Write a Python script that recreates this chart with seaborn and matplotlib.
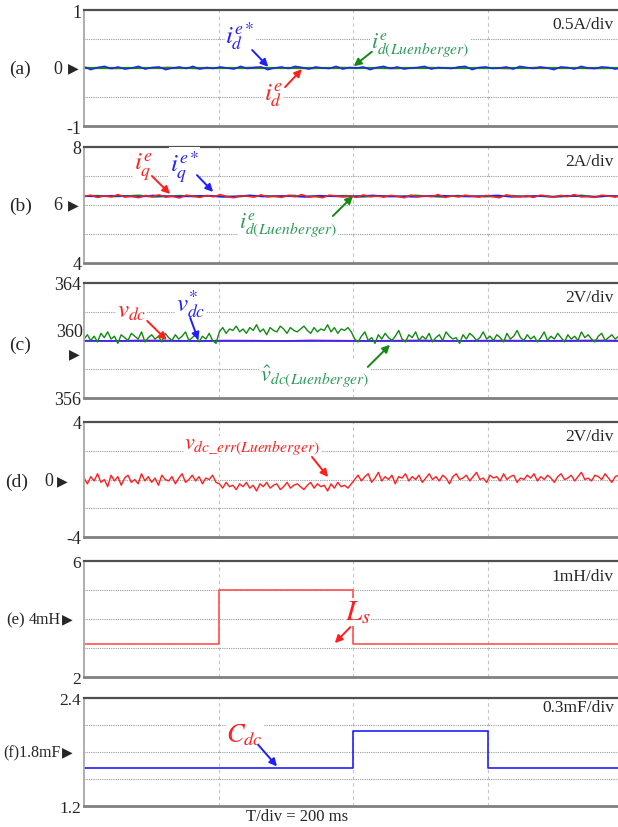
import matplotlib
matplotlib.use("Agg")
import matplotlib.pyplot as plt
import numpy as np
import seaborn as sns
from matplotlib.ticker import FixedLocator

sns.set_style("white")
plt.rcParams["font.family"] = ["Liberation Serif", "DejaVu Sans"]
plt.rcParams["mathtext.fontset"] = "stix"

W, H = 618, 828
BLUE = "#1f1fff"
RED = "#ff1f1f"
GREEN = "#128a12"
GREEN_TXT = "#2e9a5a"

# ---- data (time axis 0..800 ms, 200 ms/div) ----
# (a) d-axis current
id_ref = [0.02, -0.03, 0.01, 0.03, -0.01, 0.02, -0.02, 0.0, 0.03, -0.02,
          0.01, 0.02, -0.03, 0.0, 0.02, -0.01, 0.03, -0.02, 0.01, -0.01,
          0.02, 0.0, -0.02, 0.03, -0.01, 0.01, 0.02, -0.03, 0.0, 0.02,
          -0.01, 0.03, 0.01, -0.02, 0.02, 0.0, -0.01, 0.03, -0.02, 0.01,
          0.0, 0.02, -0.03, 0.01, 0.03, -0.01, 0.02, -0.02, 0.0, 0.01,
          0.03, -0.02, 0.01, 0.0, -0.01, 0.02, 0.03, -0.03, 0.01, 0.02,
          -0.01, 0.0, 0.02, -0.02, 0.03, 0.01, -0.01, 0.02, 0.0, -0.03,
          0.02, 0.01, -0.02, 0.03, 0.0, -0.01, 0.02, 0.01, -0.02, 0.0]
id_meas = [0.01, -0.01, 0.0, 0.01, -0.01, 0.0, 0.01, 0.0, -0.01, 0.01,
           0.0, -0.01, 0.01, 0.0, 0.0, -0.01, 0.01, 0.0, -0.01, 0.0]
id_obs = [0.0, 0.0]

# (b) q-axis current
iq_meas = [6.30, 6.34, 6.26, 6.32, 6.28, 6.36, 6.27, 6.31, 6.25, 6.33,
           6.29, 6.35, 6.27, 6.30, 6.24, 6.34, 6.31, 6.26, 6.33, 6.28,
           6.36, 6.29, 6.25, 6.32, 6.30, 6.27, 6.35, 6.28, 6.31, 6.26,
           6.33, 6.29, 6.36, 6.27, 6.30, 6.25, 6.34, 6.31, 6.28, 6.32,
           6.26, 6.35, 6.29, 6.31, 6.27, 6.33, 6.30, 6.25, 6.34, 6.28,
           6.32, 6.29, 6.36, 6.26, 6.31, 6.28, 6.34, 6.30, 6.27, 6.33,
           6.29, 6.25, 6.35, 6.30, 6.28, 6.32, 6.26, 6.34, 6.31, 6.27,
           6.33, 6.29, 6.36, 6.28, 6.30, 6.26, 6.34, 6.31, 6.27, 6.32]
iq_ref = [6.31, 6.29, 6.32, 6.30, 6.28, 6.33, 6.30, 6.29, 6.31, 6.32,
          6.28, 6.30, 6.33, 6.29, 6.31, 6.30, 6.28, 6.32, 6.30, 6.29,
          6.31, 6.33, 6.29, 6.30, 6.28, 6.31, 6.32, 6.30, 6.29, 6.31,
          6.33, 6.28, 6.30, 6.31, 6.29, 6.32, 6.30, 6.28, 6.31, 6.30]
iq_obs = [6.30, 6.32, 6.29, 6.31, 6.33, 6.28, 6.30, 6.32, 6.29, 6.31,
          6.30, 6.28, 6.32, 6.31, 6.29, 6.33, 6.30, 6.29, 6.31, 6.32,
          6.28, 6.30, 6.31, 6.29, 6.33, 6.30, 6.28, 6.32, 6.31, 6.29,
          6.30, 6.32, 6.29, 6.31, 6.28, 6.30, 6.33, 6.29, 6.31, 6.30]

# (c) dc-link voltage
vdc_meas = [360.0, 359.97, 360.02, 360.0, 359.98, 360.01, 360.0, 359.97, 360.02, 360.0,
            359.98, 360.0, 360.02, 359.97, 360.0, 360.01, 359.98, 360.0, 360.02, 360.0]
vdc_ref = [360.0, 360.0]
vdc_obs = [360.1, 360.4, 360.0, 360.3, 359.9, 360.5, 360.2, 360.6, 360.1, 360.3,
           359.8, 360.4, 360.2, 360.0, 360.5, 360.3, 360.1, 360.6, 359.9, 360.2,
           360.4, 360.1, 360.3, 359.9, 360.5, 360.2, 360.0, 360.4, 360.1, 360.3,
           360.6, 360.0, 360.2, 360.4, 359.9, 360.3, 360.1, 360.5, 360.0, 359.8,
           360.6, 360.9, 360.5, 360.8, 360.7, 361.0, 360.6, 360.8, 360.5, 360.9,
           360.7, 361.1, 360.6, 360.8, 360.4, 360.9, 360.7, 360.6, 361.0, 360.8,
           360.5, 360.9, 360.7, 360.6, 360.8, 361.0, 360.7, 360.5, 360.9, 360.6,
           360.8, 360.7, 361.1, 360.6, 360.9, 360.5, 360.8, 360.7, 360.9, 360.6,
           360.1, 359.9, 360.3, 360.6, 360.0, 360.2, 359.8, 360.4, 360.1, 360.5,
           360.2, 360.0, 360.3, 360.7, 360.1, 359.9, 360.4, 360.2, 360.6, 360.0,
           360.3, 360.1, 360.5, 359.9, 360.2, 360.4, 360.0, 360.6, 360.3, 360.1,
           360.2, 359.8, 360.4, 360.1, 360.5, 360.3, 360.0, 360.2, 360.6, 360.1,
           360.3, 360.0, 360.4, 360.2, 359.9, 360.5, 360.1, 360.3, 360.7, 360.2,
           360.0, 360.4, 360.1, 360.3, 359.9, 360.2, 360.6, 360.0, 360.3, 360.1,
           360.5, 360.2, 359.9, 360.4, 360.1, 360.3, 360.0, 360.6, 360.2, 360.4,
           360.1, 359.9, 360.3, 360.5, 360.0, 360.2, 360.4, 360.1, 360.3, 360.2]

# (d) dc-link voltage estimation error
vdc_err = [0.1, -0.3, 0.2, -0.1, 0.4, -0.2, 0.0, -0.5, 0.3, -0.1,
           0.2, -0.4, 0.1, 0.3, -0.2, 0.0, -0.3, 0.4, -0.1, 0.2,
           -0.2, 0.1, -0.4, 0.3, 0.0, -0.1, 0.2, -0.3, 0.1, 0.4,
           -0.2, 0.0, 0.3, -0.1, 0.2, -0.3, 0.1, 0.0, 0.3, -0.2,
           -0.3, -0.6, -0.2, -0.5, -0.4, -0.7, -0.3, -0.5, -0.2, -0.6,
           -0.4, -0.8, -0.3, -0.5, -0.2, -0.6, -0.4, -0.3, -0.7, -0.5,
           -0.2, -0.6, -0.4, -0.3, -0.5, -0.7, -0.4, -0.2, -0.6, -0.3,
           -0.5, -0.4, -0.8, -0.3, -0.6, -0.2, -0.5, -0.4, -0.6, -0.3,
           0.0, 0.3, -0.1, 0.2, 0.4, -0.2, 0.1, 0.5, -0.1, 0.2,
           0.0, 0.3, -0.3, 0.2, 0.1, 0.4, -0.1, 0.2, 0.0, 0.3,
           -0.2, 0.1, 0.4, 0.0, 0.2, -0.1, 0.3, 0.1, -0.3, 0.2,
           0.4, 0.0, 0.1, 0.3, -0.1, 0.2, 0.5, 0.0, 0.1, -0.2,
           0.3, 0.1, 0.2, -0.1, 0.4, 0.0, 0.2, 0.3, -0.2, 0.1,
           0.0, 0.3, 0.1, 0.4, -0.1, 0.2, 0.0, 0.3, 0.1, -0.2,
           0.2, 0.4, 0.0, 0.1, 0.3, -0.1, 0.2, 0.5, 0.0, 0.1,
           -0.1, 0.3, 0.2, 0.0, 0.4, 0.1, -0.2, 0.2, 0.3, 0.1]

# (e) grid inductance step, (f) dc capacitance step
ls_t = [0, 200, 400, 800]
ls_mh = [3.14, 5.0, 3.14, 3.14]
cdc_t = [0, 400, 600, 800]
cdc_mf = [1.62, 2.03, 1.62, 1.62]

fig = plt.figure(figsize=(W / 100, H / 100), dpi=100)


def ftext(x, y, s, **kw):
    fig.text(x / W, 1 - y / H, s, va="center", **kw)


def make_axes(top, bottom, lo, hi, labels, per_div, per_y, fs=13):
    ax = fig.add_axes([84 / W, 1 - bottom / H, 538 / W, (bottom - top) / H])
    ax.set_xlim(0, 800)
    ax.set_ylim(lo, hi)
    ax.set_xticks([200, 400, 600])
    ax.set_xticklabels([])
    ax.set_yticks([lo, hi])
    ax.set_yticklabels(labels)
    step = (hi - lo) / 4
    ax.yaxis.set_minor_locator(FixedLocator([lo + step, lo + 2 * step, lo + 3 * step]))
    ax.tick_params(which="both", length=0, pad=2, labelsize=fs)
    ax.grid(axis="x", which="major", ls=(0, (3, 3)), color="#c4c4c4", lw=0.8)
    ax.grid(axis="y", which="minor", ls=(0, (1, 1)), color="#9a9a9a", lw=0.8)
    ax.grid(axis="y", which="major", visible=False)
    ax.spines["right"].set_visible(False)
    ax.spines["top"].set_color("#505050")
    ax.spines["top"].set_linewidth(1.6)
    ax.spines["bottom"].set_color("#808080")
    ax.spines["bottom"].set_linewidth(2.0)
    ax.spines["left"].set_color("#a8a8a8")
    ax.spines["left"].set_linewidth(1.3)
    ftext(614, per_y, per_div, ha="right", fontsize=12.5)
    return ax


def trace(ax, values, color, lw=1.0, t=None, **kw):
    if t is None:
        t = np.linspace(0, 800, len(values))
    sns.lineplot(x=t, y=values, ax=ax, color=color, lw=lw, **kw)


def label(ax, x, y, s, color, fs=18):
    ax.text(x, y, s, color=color, fontsize=fs, ha="center", va="center", zorder=6,
            clip_on=False, bbox=dict(fc="white", ec="none", pad=0.5))


def arrow(ax, x0, y0, x1, y1, color):
    ax.annotate("", xy=(x1, y1), xytext=(x0, y0), zorder=6,
                arrowprops=dict(arrowstyle="-|>", color=color, lw=1.4,
                                mutation_scale=11, shrinkA=0, shrinkB=0))


def marker(x, y):
    ftext(x, y, "\u25b6", ha="left", fontsize=10)


# (a)
ax = make_axes(11, 127, -1, 1, ["-1", "1"], "0.5A/div", 25)
trace(ax, id_meas, RED, 1.0)
trace(ax, id_obs, GREEN, 1.6)
trace(ax, id_ref, BLUE, 1.0)
label(ax, 232, 0.57, r"$i_d^{e*}$", BLUE)
arrow(ax, 250, 0.31, 274, 0.02, BLUE)
label(ax, 281, -0.47, r"$i_d^{e}$", RED)
arrow(ax, 299, -0.33, 324, -0.02, RED)
label(ax, 500, 0.41, r"$i^{e}_{d(Luenberger)}$", GREEN_TXT, fs=16)
arrow(ax, 428, 0.28, 401, 0.03, GREEN)
ftext(20, 69, "(a)", ha="center", fontsize=14)
ftext(62, 69, "0", ha="right", fontsize=13)
marker(68, 69)

# (b)
ax = make_axes(148, 264, 4, 8, ["4", "8"], "2A/div", 162)
trace(ax, iq_obs, GREEN, 1.3)
trace(ax, iq_ref, BLUE, 1.2)
trace(ax, iq_meas, RED, 1.1)
label(ax, 88, 7.31, r"$i_q^{e}$", RED)
arrow(ax, 101, 7.0, 128, 6.38, RED)
label(ax, 150, 7.34, r"$i_q^{e*}$", BLUE)
arrow(ax, 168, 7.03, 192, 6.45, BLUE)
label(ax, 303, 5.34, r"$i^{e}_{d(Luenberger)}$", GREEN_TXT, fs=16)
arrow(ax, 370, 5.62, 400, 6.31, GREEN)
ftext(21, 206, "(b)", ha="center", fontsize=14)
ftext(62, 206, "6", ha="right", fontsize=13)
marker(68, 206)

# (c)
ax = make_axes(284, 399, 356, 364, ["356", "364"], "2V/div", 298)
trace(ax, vdc_meas, "#e0208a", 1.0)
trace(ax, vdc_ref, BLUE, 1.1)
trace(ax, vdc_obs, GREEN, 1.0)
label(ax, 71, 362.05, r"$v_{dc}$", RED)
arrow(ax, 94, 361.36, 123, 360.03, RED)
label(ax, 158, 362.6, r"$v_{dc}^{*}$", BLUE)
arrow(ax, 158, 361.57, 170, 360.03, BLUE)
label(ax, 343, 357.6, r"$\hat{v}_{dc(Luenberger)}$", GREEN_TXT, fs=16)
arrow(ax, 422, 358.16, 455, 359.7, GREEN)
ftext(20, 345, "(c)", ha="center", fontsize=14)
ftext(83, 333, "360", ha="right", fontsize=13)
marker(69, 355)

# (d)
ax = make_axes(423, 538, -4, 4, ["-4", "4"], "2V/div", 437)
trace(ax, vdc_err, RED, 1.0)
label(ax, 250, 2.33, r"$v_{dc\_err(Luenberger)}$", RED, fs=16)
arrow(ax, 339, 1.57, 363, 0.17, RED)
ftext(17, 482, "(d)", ha="center", fontsize=14)
ftext(53, 482, "0", ha="right", fontsize=13)
marker(57, 482)

# (e)
ax = make_axes(562, 678, 2, 6, ["2", "6"], "1mH/div", 577, fs=12.5)
trace(ax, ls_mh, "#ff5050", 1.2, t=ls_t, drawstyle="steps-post")
label(ax, 407, 4.24, r"$L_s$", RED, fs=21)
arrow(ax, 396, 3.72, 373, 3.17, RED)
ftext(6, 620, "(e)", ha="left", fontsize=12)
ftext(61, 620, "4mH", ha="right", fontsize=11.5)
marker(62, 620)

# (f)
ax = make_axes(699, 807, 1.2, 2.4, ["1.2", "2.4"], "0.3mF/div", 708, fs=12.5)
trace(ax, cdc_mf, BLUE, 1.2, t=cdc_t, drawstyle="steps-post")
label(ax, 239, 2.0, r"$C_{dc}$", RED, fs=19)
arrow(ax, 259, 1.88, 287, 1.64, BLUE)
ftext(61, 753, "(f)1.8mF", ha="right", fontsize=11.5)
marker(62, 753)

ftext(297, 817, "T/div = 200 ms", ha="center", fontsize=12)

fig.savefig("out.png", dpi=100)
